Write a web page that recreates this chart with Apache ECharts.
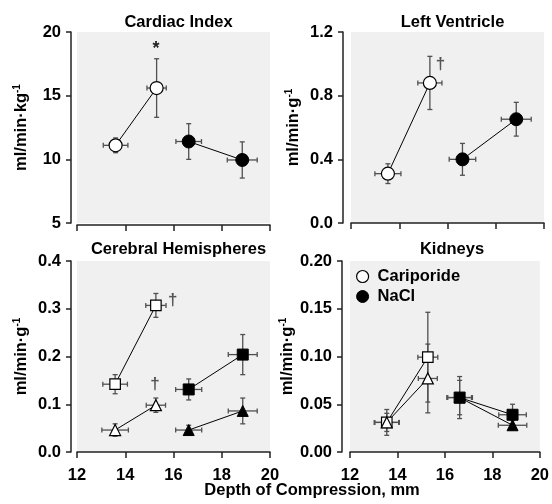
<!DOCTYPE html>
<html><head><meta charset="utf-8">
<script src="https://cdn.jsdelivr.net/npm/echarts@6/dist/echarts.min.js"></script>
<style>html,body{margin:0;padding:0;background:#fff}#c{width:552px;height:504px}</style>
</head><body><div id="c"></div>
<script>
// ---- data ----
const xTicks = [12, 14, 16, 18, 20];
const panelTitles = ['Cardiac Index', 'Left Ventricle', 'Cerebral Hemispheres', 'Kidneys'];
const yNames = ['ml/min·kg', 'ml/min·g', 'ml/min·g', 'ml/min·g'];
const yMin = [5, 0, 0, 0];
const yMax = [20, 1.2, 0.4, 0.2];
const yStep = [5, 0.4, 0.1, 0.05];
const yDecimals = [0, 1, 1, 2];
const xAxisName = 'Depth of Compression, mm';
const legendNames = ['Cariporide', 'NaCl'];

// Cardiac Index (circles)
const ciCarX = [13.6, 15.3], ciCarY = [11.1, 15.6], ciCarXErr = [0.51, 0.40], ciCarYErr = [0.58, 2.3];
const ciNaX = [16.63, 18.85], ciNaY = [11.4, 9.95], ciNaXErr = [0.53, 0.62], ciNaYErr = [1.4, 1.42];
// Left Ventricle (circles)
const lvCarX = [13.53, 15.27], lvCarY = [0.31, 0.88], lvCarXErr = [0.54, 0.50], lvCarYErr = [0.062, 0.167];
const lvNaX = [16.62, 18.85], lvNaY = [0.40, 0.652], lvNaXErr = [0.55, 0.62], lvNaYErr = [0.10, 0.106];
// Cerebral Hemispheres (squares and triangles)
const chCarSqX = [13.58, 15.27], chCarSqY = [0.142, 0.307], chCarSqXErr = [0.51, 0.42], chCarSqYErr = [0.02, 0.025];
const chCarTrX = [13.58, 15.27], chCarTrY = [0.046, 0.098], chCarTrXErr = [0.55, 0.40], chCarTrYErr = [0.013, 0.015];
const chNaSqX = [16.63, 18.87], chNaSqY = [0.131, 0.204], chNaSqXErr = [0.54, 0.60], chNaSqYErr = [0.022, 0.042];
const chNaTrX = [16.63, 18.87], chNaTrY = [0.046, 0.086], chNaTrXErr = [0.54, 0.60], chNaTrYErr = [0.01, 0.027];
// Kidneys (squares and triangles)
const kCarSqX = [13.55, 15.28], kCarSqY = [0.031, 0.0993], kCarSqXErr = [0.53, 0.42], kCarSqYErr = [0.0135, 0.047];
const kCarTrX = [13.55, 15.28], kCarTrY = [0.031, 0.077], kCarTrXErr = [0.50, 0.40], kCarTrYErr = [0.0095, 0.036];
const kNaSqX = [16.62, 18.85], kNaSqY = [0.057, 0.039], kNaSqXErr = [0.54, 0.58], kNaSqYErr = [0.022, 0.011];
const kNaTrX = [16.62, 18.85], kNaTrY = [0.057, 0.028], kNaTrXErr = [0.50, 0.60], kNaTrYErr = [0.018, 0.005];

// annotations: panel, x, y, text
const annPanel = [0, 1, 2, 2];
const annX = [15.27, 15.71, 15.97, 15.23];
const annY = [18.7, 1.0, 0.318, 0.142];
const annText = ['*', '†', '†', '†'];

// ---- layout ----
const FONT = "'Liberation Sans', Arial, sans-serif";
const FS = 16.5;
const grids = [
  {left: 77, top: 32, width: 193, height: 191},
  {left: 351, top: 32, width: 193, height: 191},
  {left: 77, top: 261, width: 193, height: 191},
  {left: 350, top: 261, width: 194, height: 191}
];
const yOffset = [6, 8, 6, 8];

const series = [];
function addGroup(gi, name, xs, ys, xe, ye, symbol, filled, size) {
  const pts = xs.map((x, i) => [x, ys[i], xe[i], ye[i]]);
  series.push({
    type: 'custom', name: name + '-err', xAxisIndex: gi, yAxisIndex: gi, z: 2,
    data: pts, encode: {x: 0, y: 1}, silent: true,
    renderItem: function (params, api) {
      const x = api.value(0), y = api.value(1), dx = api.value(2), dy = api.value(3);
      const c = api.coord([x, y]);
      const t = api.coord([x, y + dy]), b = api.coord([x, y - dy]);
      const l = api.coord([x - dx, y]), r = api.coord([x + dx, y]);
      const cap = 2.5;
      const st = {stroke: '#505050', lineWidth: 1.3};
      const seg = (x1, y1, x2, y2) => ({type: 'line', shape: {x1, y1, x2, y2}, style: st});
      return {type: 'group', children: [
        seg(c[0], t[1], c[0], b[1]),
        seg(c[0] - cap, t[1], c[0] + cap, t[1]),
        seg(c[0] - cap, b[1], c[0] + cap, b[1]),
        seg(l[0], c[1], r[0], c[1]),
        seg(l[0], c[1] - cap, l[0], c[1] + cap),
        seg(r[0], c[1] - cap, r[0], c[1] + cap)
      ]};
    }
  });
  series.push({
    type: 'line', name: name, xAxisIndex: gi, yAxisIndex: gi, z: 3,
    data: xs.map((x, i) => [x, ys[i]]),
    symbol: symbol, symbolSize: size, showSymbol: true,
    lineStyle: {color: '#000', width: 1},
    itemStyle: filled ? {color: '#000', borderColor: '#000', borderWidth: 1}
                      : {color: '#fff', borderColor: '#000', borderWidth: 1.2},
    emphasis: {disabled: true}, animation: false
  });
}
addGroup(0, 'Cariporide', ciCarX, ciCarY, ciCarXErr, ciCarYErr, 'circle', false, 13);
addGroup(0, 'NaCl', ciNaX, ciNaY, ciNaXErr, ciNaYErr, 'circle', true, 13);
addGroup(1, 'Cariporide LV', lvCarX, lvCarY, lvCarXErr, lvCarYErr, 'circle', false, 13);
addGroup(1, 'NaCl LV', lvNaX, lvNaY, lvNaXErr, lvNaYErr, 'circle', true, 13);
addGroup(2, 'Car CH sq', chCarSqX, chCarSqY, chCarSqXErr, chCarSqYErr, 'rect', false, 10.5);
addGroup(2, 'Car CH tr', chCarTrX, chCarTrY, chCarTrXErr, chCarTrYErr, 'triangle', false, 11);
addGroup(2, 'Na CH sq', chNaSqX, chNaSqY, chNaSqXErr, chNaSqYErr, 'rect', true, 11);
addGroup(2, 'Na CH tr', chNaTrX, chNaTrY, chNaTrXErr, chNaTrYErr, 'triangle', true, 11);
addGroup(3, 'Car K sq', kCarSqX, kCarSqY, kCarSqXErr, kCarSqYErr, 'rect', false, 10.5);
addGroup(3, 'Car K tr', kCarTrX, kCarTrY, kCarTrXErr, kCarTrYErr, 'triangle', false, 11);
addGroup(3, 'Na K sq', kNaSqX, kNaSqY, kNaSqXErr, kNaSqYErr, 'rect', true, 11);
addGroup(3, 'Na K tr', kNaTrX, kNaTrY, kNaTrXErr, kNaTrYErr, 'triangle', true, 11);

// annotations
for (let p = 0; p < 4; p++) {
  const idx = annPanel.map((v, i) => v === p ? i : -1).filter(i => i >= 0);
  if (!idx.length) continue;
  series.push({
    type: 'custom', xAxisIndex: p, yAxisIndex: p, z: 4, silent: true,
    data: idx.map(i => [annX[i], annY[i], i]), encode: {x: 0, y: 1},
    renderItem: function (params, api) {
      const c = api.coord([api.value(0), api.value(1)]);
      const i = api.value(2);
      const isStar = annText[i] === '*';
      return {type: 'text', x: c[0], y: c[1], style: {
        text: annText[i], fill: isStar ? '#222' : '#555',
        font: 'bold ' + (isStar ? 18 : 17) + 'px ' + FONT,
        align: 'center', verticalAlign: 'middle'
      }};
    }
  });
}

const xAxes = grids.map((g, i) => ({
  type: 'value', gridIndex: i, min: 12, max: 20, interval: 2, offset: 2,
  axisLine: {show: true, lineStyle: {color: '#222', width: 1.5}},
  axisTick: {show: true, length: 6, lineStyle: {color: '#222', width: 1.5}},
  axisLabel: {show: i >= 2, color: '#000', fontFamily: FONT, fontWeight: 'bold', fontSize: FS, margin: 13,
    formatter: v => xTicks.indexOf(v) >= 0 ? String(v) : ''},
  splitLine: {show: false}
}));
const yAxes = grids.map((g, i) => ({
  type: 'value', gridIndex: i, min: yMin[i], max: yMax[i], interval: yStep[i], offset: yOffset[i],
  axisLine: {show: true, lineStyle: {color: '#222', width: 1.5}},
  axisTick: {show: true, length: 5, lineStyle: {color: '#222', width: 1.5}},
  axisLabel: {color: '#000', fontFamily: FONT, fontWeight: 'bold', fontSize: FS, margin: 10,
    formatter: v => v.toFixed(yDecimals[i])},
  splitLine: {show: false},
  name: '{a|' + yNames[i] + '}{s|-1}', nameLocation: 'middle', nameRotate: 90, nameGap: 41,
  nameTextStyle: {rich: {
    a: {fontFamily: FONT, fontWeight: 'bold', fontSize: FS, color: '#000', lineHeight: 18},
    s: {fontFamily: FONT, fontWeight: 'bold', fontSize: 10, color: '#000', verticalAlign: 'top', lineHeight: 18}
  }}
}));

const titles = grids.map((g, i) => ({
  text: panelTitles[i], left: g.left + g.width / 2, top: i < 2 ? 9 : 236, textAlign: 'center',
  textStyle: {fontFamily: FONT, fontWeight: 'bold', fontSize: FS, color: '#000'}
}));
titles.push({text: xAxisName, left: 307, top: 477, textAlign: 'center',
  textStyle: {fontFamily: FONT, fontWeight: 'bold', fontSize: FS, color: '#000'}});

const chart = echarts.init(document.getElementById('c'), null, {renderer: 'canvas'});
chart.setOption({
  animation: false,
  backgroundColor: '#fff',
  title: titles,
  grid: grids.map(g => Object.assign({show: true, backgroundColor: '#f0f0f0', borderWidth: 0, containLabel: false}, g)),
  xAxis: xAxes,
  yAxis: yAxes,
  legend: {
    orient: 'vertical', left: 351, top: 263, itemWidth: 20, itemHeight: 12, itemGap: 3,
    selectedMode: false, icon: 'circle',
    textStyle: {fontFamily: FONT, fontWeight: 'bold', fontSize: FS, color: '#000'},
    data: [
      {name: legendNames[0], itemStyle: {color: '#fff', borderColor: '#000', borderWidth: 1.2}},
      {name: legendNames[1], itemStyle: {color: '#000', borderColor: '#000', borderWidth: 1}}
    ]
  },
  series: series
});
</script></body></html>
